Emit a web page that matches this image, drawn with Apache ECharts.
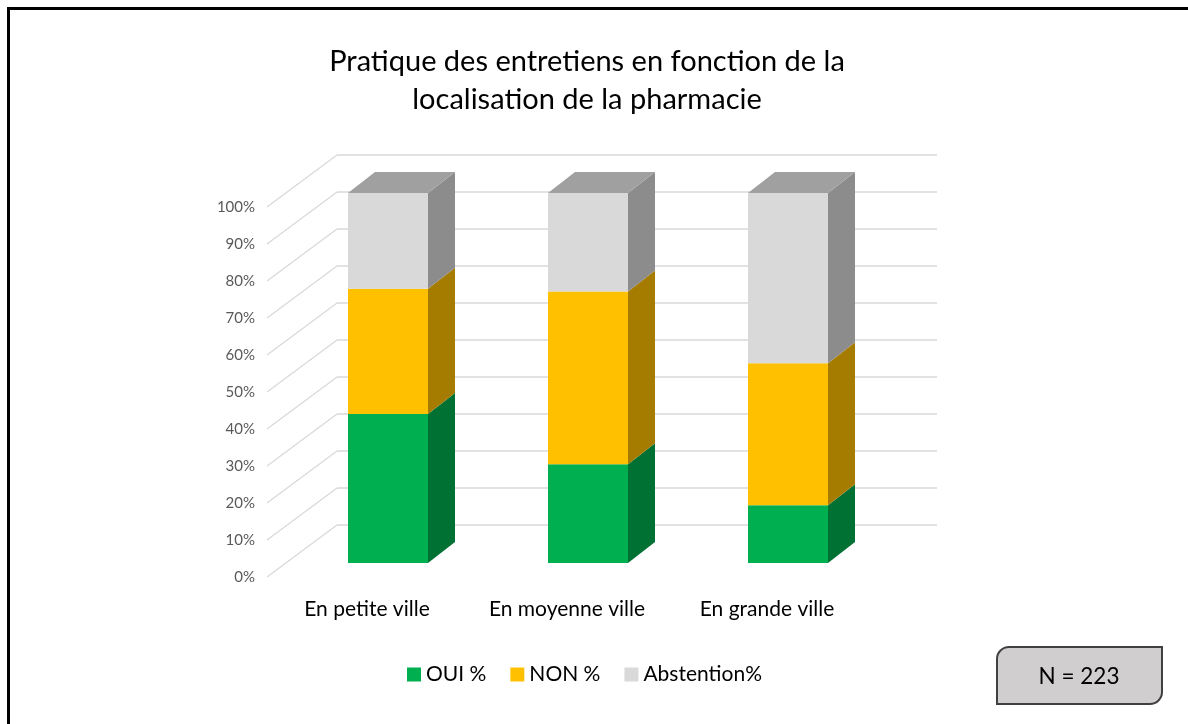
<!DOCTYPE html>
<html>
<head>
<meta charset="utf-8">
<script src="https://cdn.jsdelivr.net/npm/echarts@6/dist/echarts.min.js"></script>
<style>
  html, body { margin: 0; padding: 0; background: #fff; }
  #chart { width: 1188px; height: 724px; }
</style>
</head>
<body>
<div id="chart"></div>
<script>
  // donnees
  var categories = ["En petite ville", "En moyenne ville", "En grande ville"];
  var oui = [40.3, 26.7, 15.6];
  var non = [33.8, 46.7, 38.4];
  var abstention = [25.9, 26.6, 46.0];
  var yTicks = [0, 10, 20, 30, 40, 50, 60, 70, 80, 90, 100];

  var FONT = "Lato";
  // profondeur du plancher et des barres (pixels)
  var FLOOR_DX = 70, FLOOR_DY = -52;
  var BAR_DX = 21, BAR_DY = -14;
  var SIDE_DX = 27, SIDE_DY = -21;

  var faces = [
    { front: "#00b050", side: "#007033", top: "#00893e" },
    { front: "#ffc000", side: "#a67c00", top: "#c99700" },
    { front: "#d9d9d9", side: "#8c8c8c", top: "#a0a0a0" }
  ];

  function stackData(arrs) {
    var out = arrs.map(function () { return []; });
    for (var i = 0; i < categories.length; i++) {
      var base = 0;
      for (var s = 0; s < arrs.length; s++) {
        out[s].push([i, base, base + arrs[s][i]]);
        base += arrs[s][i];
      }
    }
    return out;
  }
  var stacked = stackData([oui, non, abstention]);

  function barRender(sIdx, isTop) {
    return function (params, api) {
      var cat = api.value(0);
      var p0 = api.coord([cat, api.value(1)]);
      var p1 = api.coord([cat, api.value(2)]);
      var half = api.size([1, 0])[0] * 0.2;
      var x0 = p0[0] - half + BAR_DX, x1 = p0[0] + half + BAR_DX;
      var yb = p0[1] + BAR_DY, yt = p1[1] + BAR_DY;
      var c = faces[sIdx];
      var children = [
        { type: "rect", shape: { x: x0, y: yt, width: x1 - x0, height: yb - yt },
          style: { fill: c.front } },
        { type: "polygon", shape: { points: [[x1, yb], [x1 + SIDE_DX, yb + SIDE_DY], [x1 + SIDE_DX, yt + SIDE_DY], [x1, yt]] },
          style: { fill: c.side } }
      ];
      if (isTop) {
        children.push({ type: "polygon",
          shape: { points: [[x0, yt], [x0 + SIDE_DX, yt + SIDE_DY], [x1 + SIDE_DX, yt + SIDE_DY], [x1, yt]] },
          style: { fill: c.top } });
      }
      return { type: "group", children: children };
    };
  }

  var chart = echarts.init(document.getElementById("chart"));
  var option = {
    animation: false,
    color: ["#00b050", "#ffc000", "#d9d9d9"],
    title: {
      text: "Pratique des entretiens en fonction de la\nlocalisation de la pharmacie",
      left: 582, textAlign: "center", top: 38,
      textStyle: { fontFamily: FONT, fontSize: 29, fontWeight: "normal", color: "#000", lineHeight: 38 }
    },
    legend: {
      data: ["OUI %", "NON %", "Abstention%"],
      left: 402, top: 659,
      icon: "rect", itemWidth: 14, itemHeight: 14, itemGap: 24,
      textStyle: { fontFamily: FONT, fontSize: 21, color: "#000" }
    },
    grid: { left: 267, width: 600, top: 207, height: 370 },
    xAxis: {
      type: "category", data: categories,
      axisLine: { show: false }, axisTick: { show: false },
      axisLabel: { interval: 0, hideOverlap: false, fontFamily: FONT, fontSize: 21, color: "#000", margin: 22 }
    },
    yAxis: {
      type: "value", min: 0, max: 100, interval: 10,
      axisLine: { show: false }, axisTick: { show: false }, splitLine: { show: false },
      axisLabel: { formatter: "{value}%", fontFamily: FONT, fontSize: 15, color: "#595959", margin: 12 }
    },
    graphic: [
      { type: "rect", shape: { x: 8.5, y: 8.5, width: 1400, height: 900 },
        style: { fill: "none", stroke: "#000", lineWidth: 3 }, silent: true },
      { type: "group", left: 996, top: 646, children: [
        { type: "rect", shape: { x: 0, y: 0, width: 165, height: 57, r: [12, 0, 12, 0] },
          style: { fill: "#d0cece", stroke: "#404040", lineWidth: 2 } },
        { type: "text", x: 82, y: 30,
          style: { text: "N = 223", fontFamily: FONT, fontSize: 22.5, fill: "#000", align: "center", verticalAlign: "middle" } }
      ] }
    ],
    series: [
      {
        type: "custom", name: "grille", silent: true, z: 1,
        data: yTicks.map(function (v) { return [0, v]; }),
        renderItem: function (params, api) {
          var y = api.coord([0, api.value(1)])[1];
          var cs = params.coordSys;
          var style = { stroke: "#d9d9d9", lineWidth: 1.3 };
          return { type: "group", children: [
            { type: "line", shape: { x1: cs.x, y1: y, x2: cs.x + FLOOR_DX, y2: y + FLOOR_DY }, style: style },
            { type: "line", shape: { x1: cs.x + FLOOR_DX, y1: y + FLOOR_DY, x2: cs.x + cs.width + FLOOR_DX, y2: y + FLOOR_DY }, style: style }
          ] };
        }
      },
      { type: "custom", name: "OUI %", z: 2, itemStyle: { color: "#00b050" }, data: stacked[0], renderItem: barRender(0, false) },
      { type: "custom", name: "NON %", z: 3, itemStyle: { color: "#ffc000" }, data: stacked[1], renderItem: barRender(1, false) },
      { type: "custom", name: "Abstention%", z: 4, itemStyle: { color: "#d9d9d9" }, data: stacked[2], renderItem: barRender(2, true) }
    ]
  };
  chart.setOption(option);
</script>
</body>
</html>
